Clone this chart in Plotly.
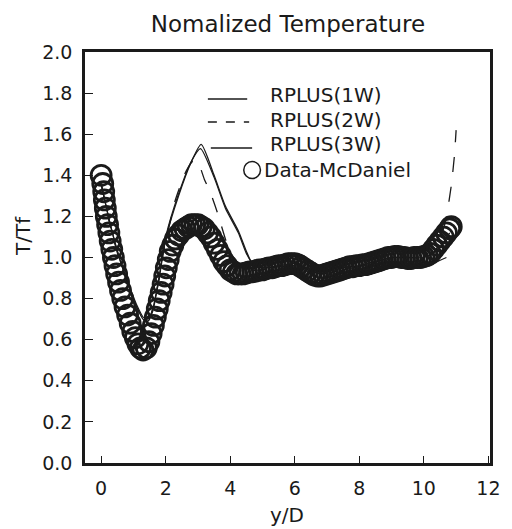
import plotly.graph_objects as go

# ---------------- data ----------------
data_x = [0.00, 0.05, 0.08, 0.10, 0.13, 0.16, 0.20, 0.24, 0.28, 0.33, 0.38, 0.43, 0.48,
          0.54, 0.60, 0.67, 0.74, 0.82, 0.90, 0.98, 1.06, 1.14, 1.22, 1.30, 1.40, 1.48,
          1.55, 1.62, 1.68, 1.74, 1.80, 1.86, 1.92, 1.97, 2.02, 2.08, 2.14, 2.22, 2.30,
          2.40, 2.50, 2.60, 2.70, 2.80, 2.90, 3.00, 3.10, 3.20, 3.30, 3.40, 3.50, 3.60,
          3.70, 3.80, 3.90, 4.00, 4.10, 4.20, 4.30, 4.40, 4.50, 4.60, 4.70, 4.80, 4.90,
          5.00, 5.10, 5.20, 5.30, 5.40, 5.50, 5.60, 5.70, 5.80, 5.90, 6.00, 6.10, 6.20,
          6.30, 6.40, 6.50, 6.60, 6.70, 6.80, 6.90, 7.00, 7.10, 7.20, 7.30, 7.40, 7.50,
          7.60, 7.70, 7.80, 7.90, 8.00, 8.10, 8.20, 8.30, 8.40, 8.50, 8.60, 8.70, 8.80,
          8.90, 9.00, 9.10, 9.20, 9.30, 9.40, 9.50, 9.60, 9.70, 9.80, 9.90, 10.00, 10.10,
          10.20, 10.30, 10.40, 10.50, 10.60, 10.70, 10.80, 10.85]
data_y = [1.40, 1.36, 1.32, 1.28, 1.24, 1.20, 1.16, 1.12, 1.08, 1.04, 1.00, 0.96, 0.92,
          0.88, 0.84, 0.80, 0.76, 0.72, 0.68, 0.64, 0.61, 0.58, 0.56, 0.55, 0.56, 0.59,
          0.63, 0.67, 0.71, 0.75, 0.79, 0.83, 0.87, 0.91, 0.95, 0.99, 1.03, 1.06, 1.09,
          1.11, 1.13, 1.14, 1.15, 1.16, 1.16, 1.16, 1.15, 1.14, 1.12, 1.10, 1.07, 1.04,
          1.01, 0.98, 0.96, 0.94, 0.93, 0.92, 0.92, 0.92, 0.925, 0.93, 0.93, 0.935, 0.94,
          0.94, 0.945, 0.95, 0.95, 0.955, 0.96, 0.96, 0.965, 0.97, 0.97, 0.97, 0.965, 0.955,
          0.945, 0.935, 0.925, 0.915, 0.91, 0.91, 0.915, 0.92, 0.925, 0.93, 0.935, 0.94, 0.945,
          0.95, 0.955, 0.955, 0.96, 0.96, 0.965, 0.965, 0.97, 0.975, 0.98, 0.985, 0.99, 0.995,
          1.00, 1.00, 1.005, 1.005, 1.00, 1.00, 0.995, 0.995, 1.00, 1.00, 1.00, 1.005, 1.01,
          1.02, 1.04, 1.06, 1.08, 1.10, 1.12, 1.14, 1.15]

r1_x = [0.0, 0.3, 0.6, 0.9, 1.1, 1.3, 1.45, 1.6, 1.8, 2.0, 2.4, 2.78, 3.1, 3.5, 3.85,
        4.25, 4.5, 4.65, 4.8, 5.0, 5.5, 6.0, 6.5, 7.0, 7.5, 8.0, 8.5, 9.0, 9.5, 10.0,
        10.5, 10.8]
r1_y = [1.36, 1.15, 0.98, 0.84, 0.76, 0.70, 0.69, 0.74, 0.90, 1.09, 1.30, 1.46, 1.55, 1.40, 1.25,
        1.13, 1.03, 0.98, 0.96, 0.95, 0.96, 0.97, 0.94, 0.93, 0.95, 0.96, 0.98, 1.00, 1.00, 1.00,
        1.05, 1.12]

r2_x = [0.0, 0.3, 0.6, 0.9, 1.1, 1.3, 1.45, 1.6, 1.8, 1.95, 2.18, 2.3, 2.63, 2.85, 2.98,
        3.2, 3.4, 3.6, 3.85, 4.1, 4.3, 5.0, 6.0, 6.8, 7.5, 8.5, 9.3, 10.0, 10.3, 10.5,
        10.7, 10.85, 10.95, 11.0]
r2_y = [1.36, 1.14, 0.97, 0.84, 0.76, 0.70, 0.69, 0.75, 0.90, 1.05, 1.20, 1.28, 1.42, 1.47, 1.47,
        1.38, 1.31, 1.22, 1.09, 0.98, 0.94, 0.94, 0.96, 0.92, 0.95, 0.98, 1.00, 1.00, 1.02, 1.08,
        1.20, 1.35, 1.50, 1.62]

r3_x = [0.0, 0.3, 0.6, 0.9, 1.1, 1.3, 1.45, 1.6, 1.8, 2.0, 2.4, 2.8, 3.08, 3.5, 3.85,
        4.25, 4.5, 4.7, 5.0, 6.0, 6.8, 7.5, 8.5, 9.0, 9.5, 10.0, 10.4, 10.7]
r3_y = [1.36, 1.15, 0.98, 0.85, 0.77, 0.71, 0.70, 0.75, 0.91, 1.10, 1.31, 1.47, 1.53, 1.39, 1.24,
        1.12, 1.02, 0.97, 0.95, 0.96, 0.92, 0.94, 0.97, 0.98, 0.97, 0.975, 0.98, 1.00]

x_ticks = [0, 2, 4, 6, 8, 10, 12]
y_ticks = [0.0, 0.2, 0.4, 0.6, 0.8, 1.0, 1.2, 1.4, 1.6, 1.8, 2.0]
legend_names = ["RPLUS(1W)", "RPLUS(2W)", "RPLUS(3W)", "Data-McDaniel"]

# ---------------- figure ----------------
FONT = "DejaVu Sans"
INK = "#1a1a1a"

fig = go.Figure()
fig.add_trace(go.Scatter(x=r1_x, y=r1_y, mode="lines", name=legend_names[0],
                         line=dict(color=INK, width=1.3, dash="solid", shape="spline", smoothing=0.6)))
fig.add_trace(go.Scatter(x=r2_x, y=r2_y, mode="lines", name=legend_names[1],
                         line=dict(color=INK, width=1.3, dash="longdash", shape="spline", smoothing=0.6)))
fig.add_trace(go.Scatter(x=r3_x, y=r3_y, mode="lines", name=legend_names[2],
                         line=dict(color=INK, width=1.2, dash="solid", shape="spline", smoothing=0.6)))
fig.add_trace(go.Scatter(x=data_x, y=data_y, mode="markers", name=legend_names[3],
                         marker=dict(symbol="circle-open", size=20, color=INK,
                                     line=dict(width=2.8, color=INK))))

L, R, T, B = 85, 15, 52, 66
W, H = 512, 529
pw, ph = W - L - R, H - T - B


def px2paper(px, py):
    return (px - L) / pw, (H - B - py) / ph


annotations = []
shapes = []

# manual legend
legend_rows = [
    (legend_names[0], 210, 250, 99, 95, "solid", 271),
    (legend_names[1], 210, 252, 122, 120, "dash", 271),
    (legend_names[2], 213, 255, 148, 144, "solid", 271),
]
for name, x0, x1, ly, ty, dash, tx in legend_rows:
    a0, b0 = px2paper(x0, ly)
    a1, _ = px2paper(x1, ly)
    shapes.append(dict(type="line", xref="paper", yref="paper", x0=a0, x1=a1, y0=b0, y1=b0,
                       line=dict(color=INK, width=1.3, dash=dash)))
    ax, ay = px2paper(tx, ty)
    annotations.append(dict(text=name, xref="paper", yref="paper", x=ax, y=ay,
                            xanchor="left", yanchor="middle", showarrow=False,
                            font=dict(family=FONT, size=20, color=INK)))
cx, cy = px2paper(255, 170)
rx, ry = 8.5 / pw, 8.5 / ph
shapes.append(dict(type="circle", xref="paper", yref="paper", x0=cx - rx, x1=cx + rx,
                   y0=cy - ry, y1=cy + ry, line=dict(color=INK, width=1.5)))
ax, ay = px2paper(265, 170)
annotations.append(dict(text=legend_names[3], xref="paper", yref="paper", x=ax, y=ay,
                        xanchor="left", yanchor="middle", showarrow=False,
                        font=dict(family=FONT, size=20, color=INK)))

# axis titles
ax, ay = px2paper(22, 236)
annotations.append(dict(text="T/Tf", xref="paper", yref="paper", x=ax, y=ay, textangle=-90,
                        xanchor="center", yanchor="middle", showarrow=False,
                        font=dict(family=FONT, size=20, color=INK)))
ax, ay = px2paper(290, 515)
annotations.append(dict(text="y/D", xref="paper", yref="paper", x=ax, y=ay,
                        xanchor="center", yanchor="middle", showarrow=False,
                        font=dict(family=FONT, size=20, color=INK)))

fig.update_layout(
    width=W, height=H,
    margin=dict(l=L, r=R, t=T, b=B, pad=0),
    paper_bgcolor="white", plot_bgcolor="white",
    showlegend=False,
    title=dict(text="Nomalized Temperature", x=288 / W, xanchor="center",
               y=1 - 24 / H, yanchor="middle",
               font=dict(family=FONT, size=23, color=INK)),
    annotations=annotations,
    shapes=shapes,
)
fig.update_xaxes(range=[-0.5, 12.05], tickvals=x_ticks, ticktext=[str(v) for v in x_ticks],
                 ticks="inside", ticklen=7, tickwidth=1.2, tickcolor=INK,
                 showline=True, linewidth=2.5, linecolor=INK, mirror=True,
                 showgrid=False, zeroline=False, ticklabelstandoff=6,
                 tickfont=dict(family=FONT, size=19, color=INK))
fig.update_yaxes(range=[0, 2.0], tickvals=y_ticks, ticktext=[f"{v:.1f}" for v in y_ticks],
                 ticks="inside", ticklen=8, tickwidth=1.2, tickcolor=INK,
                 showline=True, linewidth=2.5, linecolor=INK, mirror=True,
                 showgrid=False, zeroline=False, ticklabelstandoff=6,
                 tickfont=dict(family=FONT, size=19, color=INK))

fig.write_html("out.html")
